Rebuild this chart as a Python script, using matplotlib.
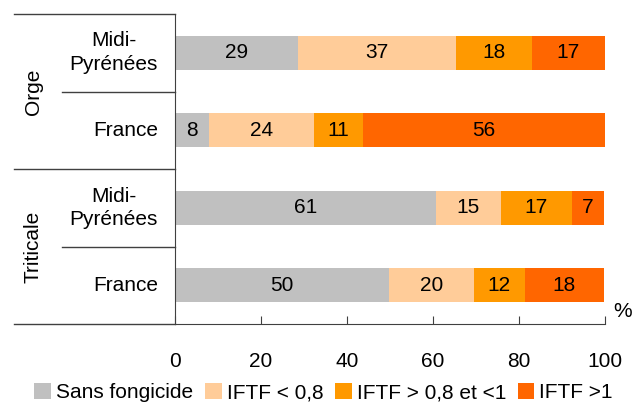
import matplotlib.pyplot as plt
import numpy as np

plt.rcParams['font.family'] = ['Liberation Sans', 'DejaVu Sans']

# données (%), de haut en bas
groupes = ['Orge', 'Triticale']
lignes = ['Midi-\nPyrénées', 'France', 'Midi-\nPyrénées', 'France']
series = ['Sans fongicide', 'IFTF < 0,8', 'IFTF > 0,8 et <1', 'IFTF >1']
sans_fong = [28.6, 7.9, 60.6, 49.8]
iftf_08 = [36.7, 24.4, 15.1, 19.7]
iftf_08_1 = [17.7, 11.4, 16.6, 11.9]
iftf_1 = [17.0, 56.3, 7.4, 18.3]
couleurs = ['#C0C0C0', '#FFCC99', '#FF9900', '#FF6600']

fig = plt.figure(figsize=(6.41, 4.07), dpi=100)
ax = fig.add_axes([175/641, 1 - 324/407, 430/641, 310/407])

y = np.arange(len(lignes))[::-1]
gauche = np.zeros(len(lignes))
for vals, nom, c in zip([sans_fong, iftf_08, iftf_08_1, iftf_1], series, couleurs):
    vals = np.array(vals)
    barres = ax.barh(y, vals, left=gauche, height=0.44, color=c, label=nom)
    ax.bar_label(barres, labels=['%.0f' % v for v in vals], label_type='center', fontsize=15)
    gauche += vals

ax.set_xlim(0, 100)
ax.set_ylim(-0.5, 3.5)
ax.set_xticks(range(0, 101, 20))
ax.tick_params(axis='x', direction='in', length=6, pad=20, labelsize=15, color='#404040')
ax.set_yticks([])
for s in ['top', 'right']:
    ax.spines[s].set_visible(False)
for s in ['left', 'bottom']:
    ax.spines[s].set_color('#404040')
ax.text(1.02, 0.01, '%', transform=ax.transAxes, fontsize=15, va='bottom', ha='left')

# étiquettes de lignes et de groupes
trans = ax.get_yaxis_transform()
for yi, lab in zip(y, lignes):
    ax.text(-0.04, yi, lab, transform=trans, ha='right', va='center', fontsize=15,
            multialignment='center', linespacing=1.3)
for i, g in enumerate(groupes):
    yc = 2.5 - 2 * i
    ax.text(-0.33, yc, g, transform=trans, ha='center', va='center', rotation=90, fontsize=15)

# lignes de séparation
x_long = (14 - 175) / 430
x_court = (62 - 175) / 430
for yl in [3.5, 1.5, -0.5]:
    ax.plot([x_long, 0], [yl, yl], transform=trans, color='#404040', lw=1, clip_on=False)
for yl in [2.5, 0.5]:
    ax.plot([x_court, 0], [yl, yl], transform=trans, color='#404040', lw=1, clip_on=False)

fig.legend(loc='lower center', bbox_to_anchor=(0.505, -0.035), ncol=4, frameon=False, fontsize=15,
           handlelength=0.8, handleheight=0.8, handletextpad=0.25, columnspacing=0.55)

fig.savefig('out.png', dpi=100)
